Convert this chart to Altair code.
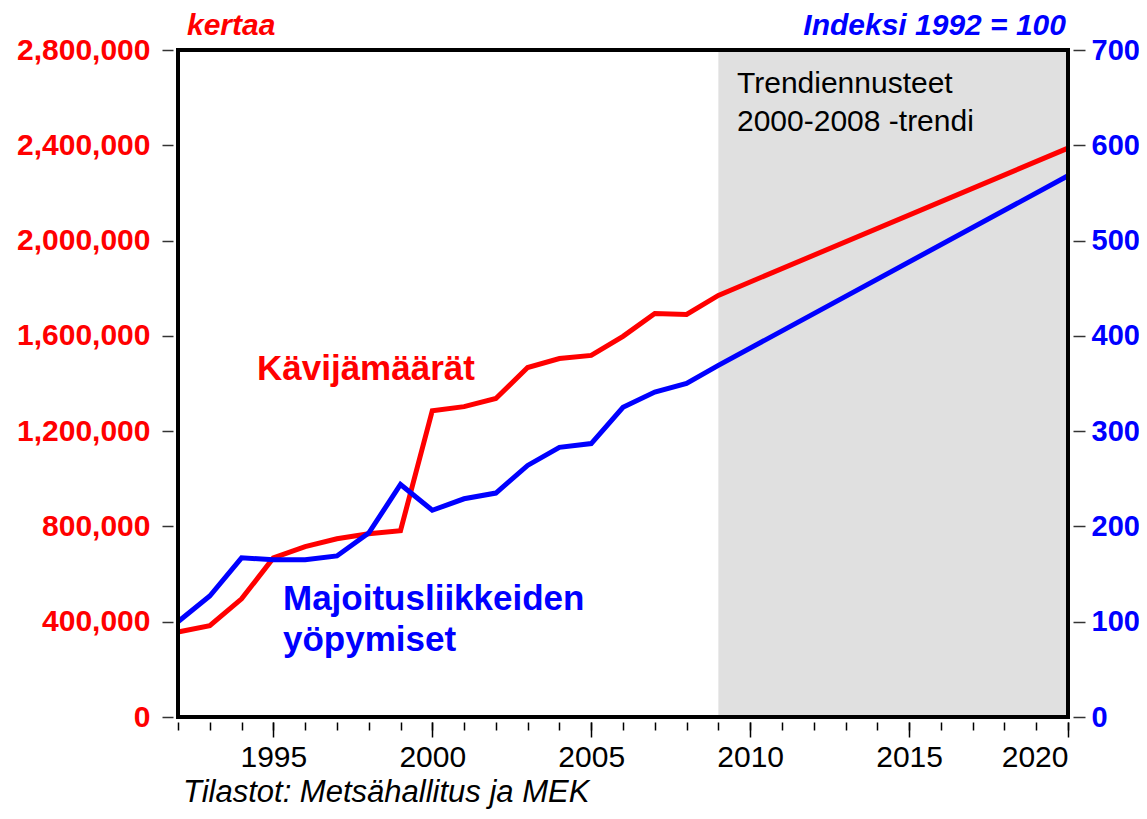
import altair as alt
import pandas as pd

# ---- data ----
years = [1992, 1993, 1994, 1995, 1996, 1997, 1998, 1999, 2000, 2001, 2002,
         2003, 2004, 2005, 2006, 2007, 2008, 2009, 2020]
visitors = [357000, 383000, 496000, 668000, 715000, 748000, 769000, 782000,
            1286000, 1303000, 1337000, 1467000, 1505000, 1518000, 1598000,
            1694000, 1690000, 1770000, 2388000]
overnights_index = [100, 127, 167, 165, 165, 169, 193, 244, 217, 229, 235,
                    264, 283, 287, 325, 341, 350, 369, 568]
forecast_start = [2009]
forecast_end = [2020]
major_years = [1995, 2000, 2005, 2010, 2015, 2020]
minor_years = list(range(1992, 2021))
left_ticks = [0, 400000, 800000, 1200000, 1600000, 2000000, 2400000, 2800000]
right_ticks = [0, 100, 200, 300, 400, 500, 600, 700]

RED = "#ff0000"
BLUE = "#0000ff"
FONT = "Liberation Sans"
W, H = 890, 667

df = pd.DataFrame({"year": years, "visitors": visitors, "index": overnights_index})
shade_df = pd.DataFrame({"start": forecast_start, "end": forecast_end})

xscale = alt.Scale(domain=[1992, 2020], nice=False, zero=False)

shade = alt.Chart(shade_df).mark_rect(color="#e0e0e0").encode(
    x=alt.X("start:Q", scale=xscale, title=None,
            axis=alt.Axis(orient="bottom", values=minor_years, labels=False, tickSize=8,
                          offset=5, domain=False, grid=False, tickColor="#000",
                          tickWidth=1.5)),
    x2="end:Q",
)

red = alt.Chart(df).mark_line(color=RED, strokeWidth=5).encode(
    x=alt.X("year:Q", scale=xscale, title=None,
            axis=alt.Axis(orient="bottom", values=major_years, format="d", tickSize=15,
                          offset=5, labelPadding=5, domain=False, grid=False,
                          labelFont=FONT, labelFontSize=30, labelColor="#000",
                          tickColor="#000", tickWidth=1.5)),
    y=alt.Y("visitors:Q", scale=alt.Scale(domain=[0, 2800000], nice=False), title=None,
            axis=alt.Axis(orient="left", values=left_ticks, format=",d", tickSize=11,
                          offset=5, labelPadding=12, domain=False, grid=False,
                          labelFont=FONT, labelFontSize=30, labelFontWeight="bold",
                          labelColor=RED, tickColor="#333", tickWidth=1.5)),
)

blue = alt.Chart(df).mark_line(color=BLUE, strokeWidth=5).encode(
    x=alt.X("year:Q", scale=xscale, axis=None),
    y=alt.Y("index:Q", scale=alt.Scale(domain=[0, 700], nice=False), title=None,
            axis=alt.Axis(orient="right", values=right_ticks, format="d", tickSize=12,
                          offset=5, labelPadding=6, domain=False, grid=False,
                          labelFont=FONT, labelFontSize=29, labelFontWeight="bold",
                          labelColor=BLUE, tickColor="#333", tickWidth=1.5)),
)


def label(text, x, y, color="#000", size=30, weight="normal", style="normal", align="left"):
    return alt.Chart(pd.DataFrame({"t": [text]})).mark_text(
        font=FONT, fontSize=size, fontWeight=weight, fontStyle=style,
        color=color, align=align, baseline="alphabetic",
    ).encode(text="t:N", x=alt.value(x), y=alt.value(y))


texts = [
    label("kertaa", 9, -15, RED, 30, "bold", "italic"),
    label("Indeksi 1992 = 100", 888, -15, BLUE, 30, "bold", "italic", "right"),
    label("Trendiennusteet", 559, 43, "#000", 30),
    label("2000-2008 -trendi", 559, 81, "#000", 30),
    label("Kävijämäärät", 79, 330, RED, 35, "bold"),
    label("Majoitusliikkeiden", 105, 560, BLUE, 35, "bold"),
    label("yöpymiset", 105, 601, BLUE, 35, "bold"),
    label("Tilastot: Metsähallitus ja MEK", 5, 752, "#000", 31, "normal", "italic"),
]

frame = alt.Chart(pd.DataFrame({"a": [0]})).mark_rect(
    fill=None, stroke="#000", strokeWidth=4
).encode(x=alt.value(0), x2=alt.value(W), y=alt.value(0), y2=alt.value(H))

chart = alt.layer(shade, red, blue, frame, *texts).resolve_scale(
    y="independent"
).resolve_axis(x="independent", y="independent").properties(
    width=W, height=H,
    autosize=alt.AutoSizeParams(type="none"),
    padding={"left": 170, "top": 42, "right": 71, "bottom": 93},
).configure_view(stroke=None)

chart.save("out.html", embed_options={"renderer": "svg", "actions": False})
